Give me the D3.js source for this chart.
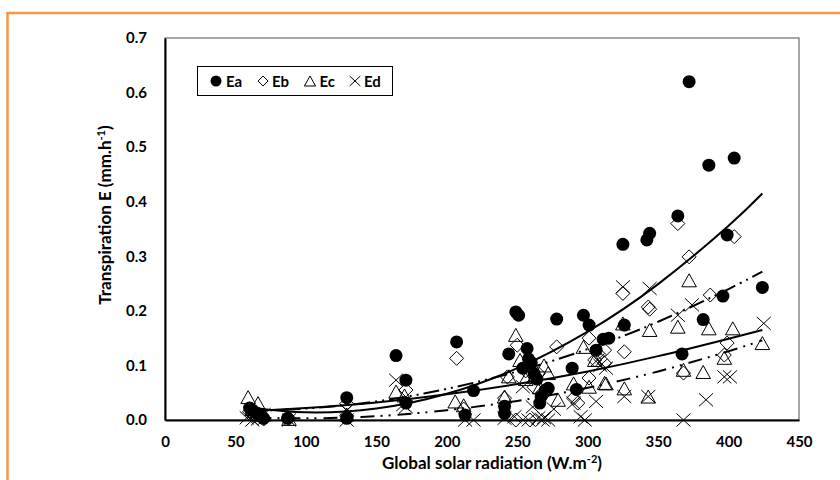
<!DOCTYPE html>
<html>
<head>
<meta charset="utf-8">
<script src="https://cdn.jsdelivr.net/npm/d3@7"></script>
<style>
  body { margin: 0; background: #fff; }
  svg { display: block; }
  text { font-family: Lato, "Open Sans", sans-serif; font-weight: bold; fill: #000; }
</style>
</head>
<body>
<svg id="chart" width="840" height="480"></svg>
<script>
// Axis ticks
const xTicks = [0, 50, 100, 150, 200, 250, 300, 350, 400, 450];
const yTicks = [0, 0.1, 0.2, 0.3, 0.4, 0.5, 0.6, 0.7];
const seriesNames = ["Ea", "Eb", "Ec", "Ed"];

// Hourly transpiration (mm/h) against global solar radiation (W/m2): [radiation, E]
const eaPoints = [
  [60,0.022],[62,0.018],[65,0.013],[67,0.008],[69,0.005],[70,0.003],[87,0.003],
  [129,0.041],[129,0.003],[164,0.118],[171,0.073],[171,0.031],[207,0.143],[213,0.009],
  [219,0.054],[241,0.012],[241,0.025],[244,0.121],[249,0.198],[251,0.192],[254,0.095],
  [257,0.131],[258,0.112],[260,0.105],[262,0.085],[264,0.075],[266,0.031],[267,0.043],
  [270,0.055],[272,0.058],[278,0.185],[289,0.095],[292,0.056],[297,0.192],[301,0.174],
  [306,0.128],[311,0.148],[315,0.150],[325,0.322],[326,0.174],[342,0.330],[344,0.342],
  [364,0.374],[367,0.121],[372,0.620],[382,0.184],[386,0.467],[396,0.227],[399,0.339],
  [404,0.480],[424,0.243]
];
const ebPoints = [
  [60,0.015],[63,0.008],[66,0.004],[70,0.002],[88,0.003],[129,0.030],[129,0.008],
  [171,0.055],[207,0.113],[212,0.020],[241,0.040],[243,0.079],[249,0.000],[250,0.137],
  [256,0.090],[259,0.000],[262,0.060],[265,0.085],[270,0.050],[278,0.134],[290,0.040],
  [293,0.031],[301,0.150],[301,0.077],[305,0.110],[308,0.120],[312,0.128],[312,0.104],
  [325,0.232],[326,0.125],[343,0.207],[344,0.203],[364,0.360],[368,0.086],[372,0.299],
  [387,0.229],[397,0.119],[399,0.141],[404,0.336]
];
const ecPoints = [
  [59,0.042],[62,0.020],[66,0.031],[70,0.010],[88,0.002],[129,0.010],[164,0.052],
  [170,0.045],[206,0.034],[212,0.027],[241,0.043],[244,0.080],[249,0.156],[252,0.110],
  [256,0.075],[262,0.079],[266,0.060],[269,0.100],[272,0.086],[279,0.037],[290,0.067],
  [297,0.134],[301,0.061],[305,0.110],[312,0.068],[313,0.067],[325,0.177],[326,0.058],
  [343,0.043],[344,0.165],[364,0.171],[368,0.092],[372,0.256],[382,0.088],[386,0.168],
  [397,0.114],[403,0.168],[424,0.141]
];
const edPoints = [
  [58,0.004],[62,0.000],[66,0.002],[70,0.010],[88,0.000],[129,0.018],[129,0.000],
  [164,0.073],[169,0.028],[171,0.024],[213,0.000],[219,0.000],[241,0.003],[248,0.006],
  [254,0.061],[258,0.000],[261,0.024],[265,0.004],[268,0.000],[269,0.004],[272,0.000],
  [276,0.020],[290,0.031],[295,0.006],[298,0.000],[306,0.034],[307,0.110],[309,0.100],
  [313,0.095],[325,0.244],[326,0.043],[343,0.043],[344,0.241],[364,0.192],[368,0.000],
  [374,0.211],[384,0.037],[397,0.079],[401,0.079],[425,0.177]
];

// Fitted trend curves sampled along the radiation range
const trendX  = [60, 100, 150, 200, 250, 300, 350, 400, 424];
const trendEa = [0.023, 0.014, 0.021, 0.048, 0.095, 0.162, 0.249, 0.356, 0.415];
const trendEb = [0.017, 0.021, 0.034, 0.057, 0.089, 0.130, 0.180, 0.240, 0.272];
const trendEc = [0.016, 0.022, 0.032, 0.047, 0.066, 0.089, 0.117, 0.149, 0.165];
const trendEd = [0.005, 0.003, 0.007, 0.018, 0.035, 0.059, 0.089, 0.126, 0.146];

const svg = d3.select("#chart");
const plot = { left: 165, right: 799, top: 38, bottom: 420 };

const x = d3.scaleLinear().domain([0, 450]).range([plot.left, plot.right]);
const y = d3.scaleLinear().domain([0, 0.7]).range([plot.bottom, plot.top]);

// page frame
svg.append("rect").attr("width", 840).attr("height", 480).attr("fill", "#fff");
svg.append("rect")
  .attr("x", 7.5).attr("y", 13).attr("width", 860).attr("height", 500)
  .attr("fill", "none").attr("stroke", "#F79646").attr("stroke-width", 2.5);

// plot area border
svg.append("rect")
  .attr("x", plot.left).attr("y", plot.top)
  .attr("width", plot.right - plot.left).attr("height", plot.bottom - plot.top)
  .attr("fill", "none").attr("stroke", "#6e6e6e").attr("stroke-width", 1.2);

// axes
const xAxis = d3.axisBottom(x).tickValues(xTicks).tickSize(0).tickPadding(16).tickFormat(d3.format("d"));
const yAxis = d3.axisLeft(y).tickValues(yTicks).tickSize(0).tickPadding(18).tickFormat(d3.format(".1f"));

const gx = svg.append("g").attr("transform", `translate(0,${plot.bottom})`).call(xAxis);
const gy = svg.append("g").attr("transform", `translate(${plot.left},0)`).call(yAxis);
[gx, gy].forEach(g => {
  g.select(".domain").attr("stroke", "#000").attr("stroke-width", 2);
  g.selectAll(".tick text").attr("font-size", 15).attr("font-family", "Lato, sans-serif").attr("font-weight", "bold").attr("fill", "#000");
});

// marker shapes
const markerPath = {
  Ea: r => d3.symbol(d3.symbolCircle, Math.PI * r * r)(),
  Eb: r => `M0,${-r}L${r},0L0,${r}L${-r},0Z`,
  Ec: r => `M0,${-r}L${r * 1.12},${r}L${-r * 1.12},${r}Z`,
  Ed: r => `M${-r},${-r * 0.93}L${r},${r * 0.93}M${-r},${r * 0.93}L${r},${-r * 0.93}`
};
const markerStyle = {
  Ea: s => s.attr("fill", "#000").attr("stroke", "none"),
  Eb: s => s.attr("fill", "none").attr("stroke", "#000").attr("stroke-width", 1),
  Ec: s => s.attr("fill", "none").attr("stroke", "#000").attr("stroke-width", 1),
  Ed: s => s.attr("fill", "none").attr("stroke", "#000").attr("stroke-width", 1)
};
const seriesData = { Ea: eaPoints, Eb: ebPoints, Ec: ecPoints, Ed: edPoints };
const markerSize = { Ea: 6.5, Eb: 7, Ec: 6.5, Ed: 7 };

seriesNames.forEach(name => {
  svg.append("g").selectAll("path")
    .data(seriesData[name])
    .join("path")
    .attr("d", markerPath[name](markerSize[name]))
    .attr("transform", d => `translate(${x(d[0])},${y(d[1])})`)
    .call(markerStyle[name]);
});

// trend lines
const trends = [
  { values: trendEa, dash: null },
  { values: trendEb, dash: "16,5,2,5,2,5" },
  { values: trendEc, dash: null },
  { values: trendEd, dash: "14,6,2,6,2,7" }
];
const line = d3.line().x(d => x(d[0])).y(d => y(d[1])).curve(d3.curveNatural);
trends.forEach(t => {
  svg.append("path")
    .attr("d", line(trendX.map((v, i) => [v, t.values[i]])))
    .attr("fill", "none").attr("stroke", "#000").attr("stroke-width", 2)
    .attr("stroke-dasharray", t.dash);
});

// legend
const legend = svg.append("g");
legend.append("rect").attr("x", 197.5).attr("y", 66.5).attr("width", 195).attr("height", 29)
  .attr("fill", "#fff").attr("stroke", "#000").attr("stroke-width", 1);
const legendMarkX = [216, 263, 310, 355];
const legendTextX = [226, 272, 319.5, 364];
const legendSize = { Ea: 5.5, Eb: 5, Ec: 5, Ed: 5.3 };
seriesNames.forEach((name, i) => {
  legend.append("path")
    .attr("d", markerPath[name](legendSize[name]))
    .attr("transform", `translate(${legendMarkX[i]},81)`)
    .call(markerStyle[name]);
  legend.append("text").attr("x", legendTextX[i]).attr("y", 86.5)
    .attr("font-size", 15).text(name);
});

// axis titles
const xt = svg.append("text").attr("x", 492).attr("y", 469).attr("text-anchor", "middle").attr("font-size", 17);
xt.append("tspan").text("Global solar radiation (W.m");
xt.append("tspan").attr("dy", -6).attr("font-size", 11).text("-2");
xt.append("tspan").attr("dy", 6).text(")");

const yt = svg.append("text").attr("transform", "translate(111,215) rotate(-90)").attr("text-anchor", "middle").attr("font-size", 17);
yt.append("tspan").text("Transpiration E (mm.h");
yt.append("tspan").attr("dy", -6).attr("font-size", 11).text("-1");
yt.append("tspan").attr("dy", 6).text(")");
</script>
</body>
</html>
